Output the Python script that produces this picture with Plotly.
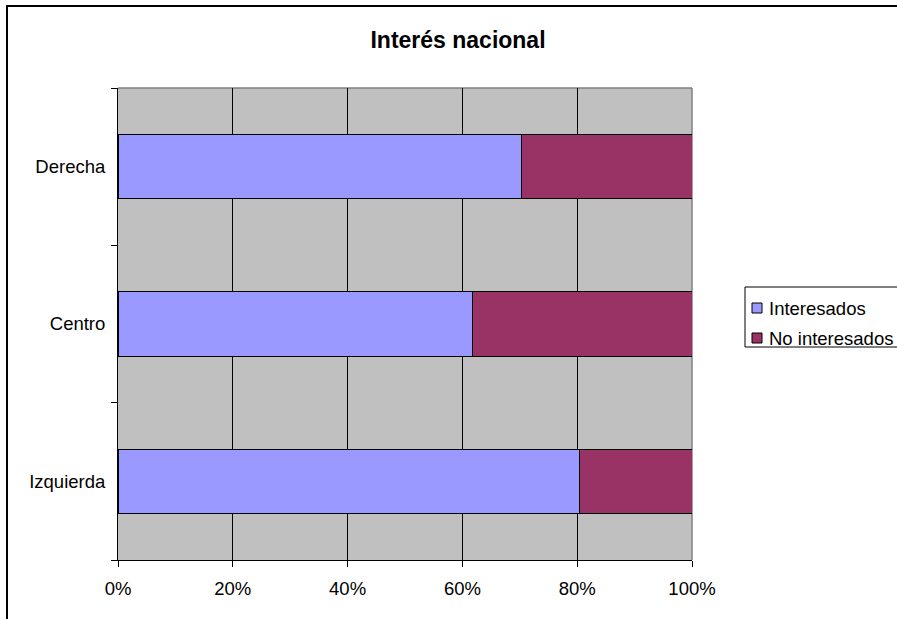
import plotly.graph_objects as go

# ---- data ----
categories = ["Izquierda", "Centro", "Derecha"]
series_names = ["Interesados", "No interesados"]
interesados = [80.4, 61.7, 70.3]
no_interesados = [19.6, 38.3, 29.7]
series_values = [interesados, no_interesados]
series_colors = ["#9999FF", "#993366"]
x_ticks = [0, 20, 40, 60, 80, 100]
x_tick_labels = ["0%", "20%", "40%", "60%", "80%", "100%"]
title_text = "Interés nacional"

W, H = 897, 619
L, R, T, B = 118, 692, 88, 560
FONT = "Arial, 'Liberation Sans', sans-serif"
FS = 18.5


def px_x(px):
    return (px - L) / (R - L)


def px_y(py):
    return (B - py) / (B - T)


fig = go.Figure()
for name, vals, col in zip(series_names, series_values, series_colors):
    fig.add_trace(go.Bar(
        y=categories, x=vals, name=name, orientation="h",
        marker=dict(color=col, line=dict(color="black", width=1)),
        showlegend=False,
    ))

shapes = [
    # top and right plot border (gray)
    dict(type="line", xref="x domain", yref="y domain", x0=0, x1=1, y0=1, y1=1,
         line=dict(color="#808080", width=1.5), layer="below"),
    dict(type="line", xref="x domain", yref="y domain", x0=1, x1=1, y0=0, y1=1,
         line=dict(color="#808080", width=1.5), layer="below"),
    # outer chart frame
    dict(type="rect", xref="paper", yref="paper",
         x0=px_x(7), x1=px_x(915), y0=px_y(6), y1=px_y(640),
         line=dict(color="black", width=2), fillcolor="rgba(0,0,0,0)"),
    # legend box
    dict(type="rect", xref="paper", yref="paper",
         x0=px_x(745), x1=px_x(910), y0=px_y(287), y1=px_y(347),
         line=dict(color="black", width=1), fillcolor="white"),
]
annotations = []
for i, (name, col) in enumerate(zip(series_names, series_colors)):
    cy = 308 + 30 * i
    shapes.append(dict(type="rect", xref="paper", yref="paper",
                       x0=px_x(752), x1=px_x(762), y0=px_y(cy - 5), y1=px_y(cy + 5),
                       line=dict(color="black", width=1), fillcolor=col))
    annotations.append(dict(xref="paper", yref="paper", x=px_x(767), y=px_y(cy),
                            xanchor="left", yanchor="middle", text=name, showarrow=False,
                            font=dict(family=FONT, size=FS, color="black")))

fig.update_layout(
    width=W, height=H,
    margin=dict(l=L, r=W - R, t=T, b=H - B, autoexpand=False),
    paper_bgcolor="white", plot_bgcolor="#C0C0C0",
    barmode="stack", bargap=0.59,
    font=dict(family=FONT, size=FS, color="black"),
    title=dict(text=title_text, x=458 / W, xref="container", xanchor="center",
               y=1 - 40 / H, yref="container", yanchor="middle",
               font=dict(family=FONT, size=23, color="black", weight="bold")),
    shapes=shapes, annotations=annotations,
    xaxis=dict(range=[0, 100], tickvals=x_ticks, ticktext=x_tick_labels,
               showgrid=True, gridcolor="black", gridwidth=1, zeroline=False,
               showline=True, linecolor="black", linewidth=1,
               ticks="outside", ticklen=6, tickcolor="black",
               ticklabelstandoff=6, fixedrange=True),
    yaxis=dict(type="category", categoryorder="array", categoryarray=categories,
               showgrid=False, zeroline=False, showline=True, linecolor="black", linewidth=1,
               ticks="outside", ticklen=6, tickcolor="black", tickson="boundaries",
               ticklabelstandoff=8, fixedrange=True),
)

fig.write_html(
    "out.html",
    config={"displayModeBar": False},
    post_script="document.body.style.margin='0';document.body.style.overflow='hidden';",
)
